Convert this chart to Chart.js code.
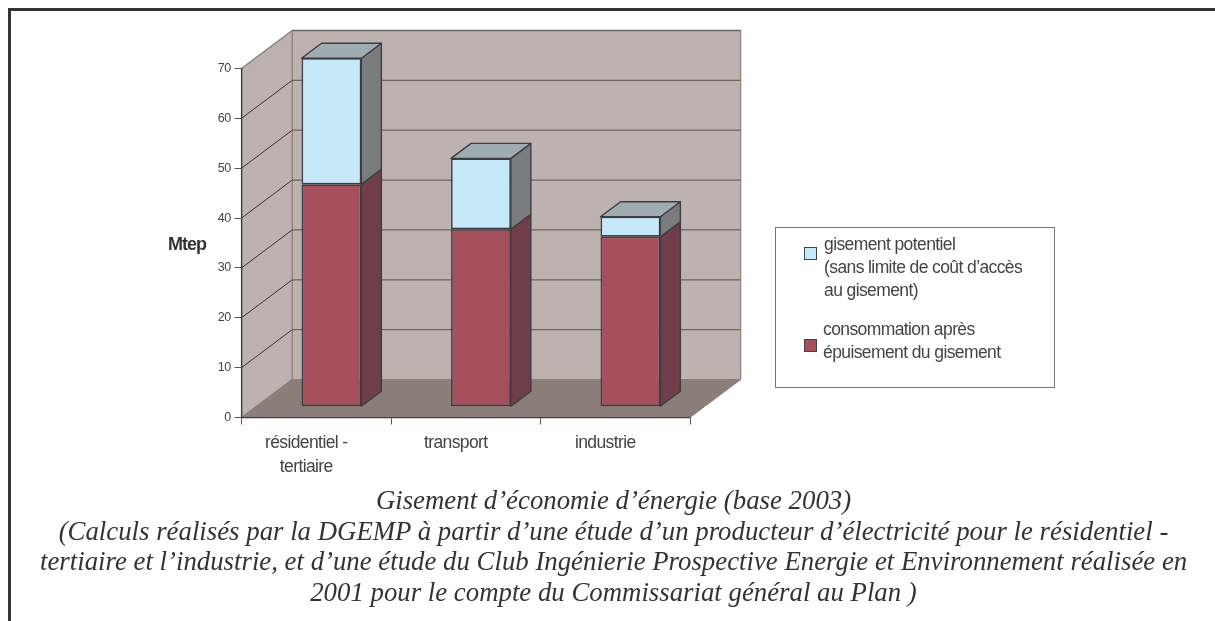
<!DOCTYPE html>
<html lang="fr">
<head>
<meta charset="utf-8">
<title>Gisement d'économie d'énergie</title>
<script src="https://cdn.jsdelivr.net/npm/chart.js@4"></script>
<style>
	html, body { margin: 0; background: #fff; }
	#page { position: relative; width: 1215px; height: 621px; overflow: hidden; }
	#cadre { position: absolute; left: 8px; top: 8px; width: 1300px; height: 700px; border: 3px solid #333338; }
	canvas { position: absolute; left: 0; top: 0; }
	#unite { position: absolute; left: 168px; top: 234px; font: bold 18px "Liberation Sans"; letter-spacing: -1px; color: #333; }
	#legende { position: absolute; left: 775px; top: 227px; width: 278px; height: 159px; border: 1px solid #777;
		font: 17.5px/23px "Liberation Sans"; letter-spacing: -0.6px; color: #444; }
	#legende div { position: absolute; white-space: pre; }
	#legende i { position: absolute; left: 28px; width: 11px; height: 11px; border: 1px solid #444; }
	#legende .g { left: 48px; top: 5px; }
	#legende .c { left: 47px; top: 90px; }
	#legende .cg { top: 19px; background: #c6e9fa; }
	#legende .cc { top: 111px; background: #a6505e; }
	#titre { position: absolute; left: 40px; top: 485px; width: 1147px; text-align: center; white-space: pre;
		font: italic 26.8px/30.6px "Liberation Serif"; color: #333; }
</style>
</head>
<body>
<div id="page">
	<div id="cadre"></div>
	<canvas id="graphe" width="1215" height="621"></canvas>
	<div id="unite">Mtep</div>
	<div id="legende">
		<i class="cg"></i><div class="g" id="texteGisement"></div>
		<i class="cc"></i><div class="c" id="texteConso"></div>
	</div>
	<div id="titre"></div>
</div>

<script>
const categories = [['résidentiel -', 'tertiaire'], 'transport', 'industrie'];
const consommation = [44.6, 35.6, 34.1];
const gisement = [25.3, 14.2, 4.0];
const graduations = [0, 10, 20, 30, 40, 50, 60, 70];
const libelleConsommation = 'consommation après\népuisement du gisement';
const libelleGisement = 'gisement potentiel\n(sans limite de coût d\u2019accès\nau gisement)';
const titre = [
	'Gisement d\u2019économie d\u2019énergie (base 2003)',
	'(Calculs réalisés par la DGEMP à partir d\u2019une étude d\u2019un producteur d\u2019électricité pour le résidentiel -',
	'tertiaire et l\u2019industrie, et d\u2019une étude du Club Ingénierie Prospective Energie et Environnement réalisée en',
	'2001 pour le compte du Commissariat général au Plan )'
];

document.getElementById('texteGisement').textContent = libelleGisement;
document.getElementById('texteConso').textContent = libelleConsommation;
document.getElementById('titre').textContent = titre.join('\n');

// decalages de la perspective : parois, position des barres, profondeur des barres
const PAROI = { x: 50.7, y: -38 };
const RETRAIT = { x: 15.2, y: -10.8 };
const PROF = { x: 20, y: -15 };

const couleurs = {
	mur: '#bdb2af', sol: '#8b7d78', bordMur: '#8d807c',
	grilleFond: '#6e6563', grilleCote: '#333338', trait: '#3c3c42',
	dessus: '#9fadb2'
};
const cotes = ['#6f3e48', '#7a7c7e'];

function polygone(ctx, pts, fond, trait, ep) {
	ctx.beginPath();
	pts.forEach(function (p, i) { if (i === 0) ctx.moveTo(p[0], p[1]); else ctx.lineTo(p[0], p[1]); });
	ctx.closePath();
	if (fond) { ctx.fillStyle = fond; ctx.fill(); }
	if (trait) { ctx.strokeStyle = trait; ctx.lineWidth = ep; ctx.lineJoin = 'round'; ctx.stroke(); }
}

const parois = {
	id: 'parois',
	beforeDraw(chart) {
		const ctx = chart.ctx, a = chart.chartArea, y = chart.scales.y;
		const dx = PAROI.x, dy = PAROI.y;
		// texte des axes un peu serre comme sur l'original
		ctx.letterSpacing = '-0.6px';
		ctx.save();
		polygone(ctx, [[a.left + dx, a.top + dy], [a.right + dx, a.top + dy], [a.right + dx, a.bottom + dy], [a.left + dx, a.bottom + dy]], couleurs.mur, couleurs.bordMur, 1.2);
		polygone(ctx, [[a.left, a.top], [a.left + dx, a.top + dy], [a.left + dx, a.bottom + dy], [a.left, a.bottom]], couleurs.mur, couleurs.bordMur, 1.2);
		polygone(ctx, [[a.left, a.bottom], [a.right, a.bottom], [a.right + dx, a.bottom + dy], [a.left + dx, a.bottom + dy]], couleurs.sol, couleurs.bordMur, 1);
		graduations.forEach(function (v) {
			if (v === 0) return;
			const py = y.getPixelForValue(v);
			ctx.beginPath();
			ctx.moveTo(a.left + dx, py + dy);
			ctx.lineTo(a.right + dx, py + dy);
			ctx.strokeStyle = couleurs.grilleFond;
			ctx.lineWidth = 1.3;
			ctx.stroke();
			ctx.beginPath();
			ctx.moveTo(a.left, py);
			ctx.lineTo(a.left + dx, py + dy);
			ctx.strokeStyle = v === 70 ? couleurs.bordMur : couleurs.grilleCote;
			ctx.lineWidth = 1;
			ctx.stroke();
		});
		ctx.restore();
	}
};

// les barres sont dessinees par Chart.js, simplement decalees vers le fond,
// et on ajoute les faces laterales et le dessus a partir des elements
const volumes = {
	id: 'volumes',
	beforeDatasetsDraw(chart) {
		chart.ctx.save();
		chart.ctx.translate(RETRAIT.x, RETRAIT.y);
	},
	afterDatasetsDraw(chart) {
		const ctx = chart.ctx, dx = PROF.x, dy = PROF.y;
		chart.data.datasets.forEach(function (ds, i) {
			chart.getDatasetMeta(i).data.forEach(function (b) {
				const g = b.x - b.width / 2, d = b.x + b.width / 2;
				polygone(ctx, [[d, b.y], [d + dx, b.y + dy], [d + dx, b.base + dy], [d, b.base]], cotes[i], couleurs.trait, 1.4);
				if (i === chart.data.datasets.length - 1) {
					polygone(ctx, [[g, b.y], [g + dx, b.y + dy], [d + dx, b.y + dy], [d, b.y]], couleurs.dessus, couleurs.trait, 1.4);
				}
			});
		});
		ctx.restore();
	}
};

new Chart(document.getElementById('graphe'), {
	type: 'bar',
	data: {
		labels: categories,
		datasets: [
			{ label: libelleConsommation, data: consommation, backgroundColor: '#a6505e', borderColor: couleurs.trait, borderWidth: 1.6, borderSkipped: false },
			{ label: libelleGisement, data: gisement, backgroundColor: '#c6e9fa', borderColor: couleurs.trait, borderWidth: 1.6, borderSkipped: false }
		]
	},
	plugins: [parois, volumes],
	options: {
		responsive: false,
		animation: false,
		clip: false,
		categoryPercentage: 1,
		barPercentage: 0.4,
		layout: { padding: { top: 68.5, right: 525, left: 0, bottom: 0 } },
		plugins: { legend: { display: false }, tooltip: { enabled: false } },
		scales: {
			x: {
				stacked: true,
				afterFit(s) { s.height = 203.5; },
				border: { color: '#3c3c42', width: 1.3 },
				grid: { drawOnChartArea: false, tickLength: 7, tickColor: '#55555a', offset: true },
				ticks: {
					maxRotation: 0, autoSkip: false, labelOffset: -10, padding: 6,
					color: '#444448',
					font: { family: 'Liberation Sans', size: 17.5, lineHeight: 1.41 }
				}
			},
			y: {
				stacked: true, min: 0, max: 70,
				afterFit(s) { s.width = 241.5; },
				afterBuildTicks(s) { s.ticks = graduations.map(function (v) { return { value: v }; }); },
				border: { color: '#3c3c42', width: 1.3 },
				grid: { drawOnChartArea: false, tickLength: 7, tickColor: '#55555a' },
				ticks: {
					padding: 4,
					color: '#444448',
					font: { family: 'Liberation Sans', size: 12.5 }
				}
			}
		}
	}
});
</script>
</body>
</html>
